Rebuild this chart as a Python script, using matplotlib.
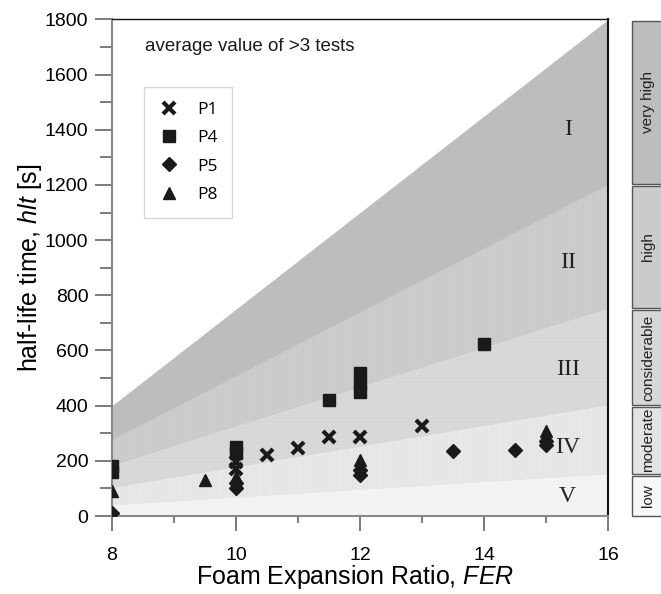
import matplotlib
matplotlib.use('Agg')
import matplotlib.pyplot as plt
from matplotlib.patches import Rectangle
from matplotlib.ticker import MultipleLocator

p1_fer = [10, 10, 10.5, 11, 11.5, 12, 13]
p1_hlt = [195, 170, 220, 245, 285, 285, 325]

p4_fer = [8, 8, 10, 10, 11.5, 12, 12, 12, 14]
p4_hlt = [180, 160, 250, 230, 420, 520, 480, 450, 625]

p5_fer = [8, 10, 10, 12, 12, 13.5, 14.5, 15, 15]
p5_hlt = [10, 120, 100, 165, 150, 235, 240, 272, 256]

p8_fer = [8, 9.5, 10, 12, 15, 15]
p8_hlt = [92, 130, 142, 202, 308, 290]

# Class boundaries, value at FER = 8 and FER = 16
band_fer = [8, 16]
bound_I = [400, 1800]
bound_II = [275, 1200]
bound_III = [180, 750]
bound_IV = [100, 400]
bound_V = [37, 150]
bound_zero = [0, 0]

band_names = ['I', 'II', 'III', 'IV', 'V']
band_label_hlt = [1400, 920, 530, 250, 70]

level_names = ['very high', 'high', 'considerable', 'moderate', 'low']
level_lo = [1200, 750, 400, 150, 0]
level_hi = [1800, 1200, 750, 400, 150]

band_colors = ['#bdbdbf', '#cacacb', '#d7d7d8', '#e5e5e5', '#f2f2f2']
hatch_colors = ['#bdbdbf', '#d2d2d3', '#e0e0e0', '#eeeeee', '#fafafa']
hatches = [None, '|||||', '.....', '|||||', '.....']
box_colors = ['#bdbdbf', '#cbcbcc', '#d7d7d8', '#e3e3e3', '#f7f7f7']


def main():
    plt.rcParams['font.family'] = ['Liberation Sans', 'DejaVu Sans']
    plt.rcParams['mathtext.fontset'] = 'custom'
    plt.rcParams['mathtext.rm'] = 'Liberation Sans'
    plt.rcParams['mathtext.it'] = 'Liberation Sans:italic'
    plt.rcParams['hatch.linewidth'] = 0.4

    fig = plt.figure(figsize=(6.61, 5.94), dpi=100)
    ax = fig.add_axes([0.1694, 0.1313, 0.7504, 0.8359])

    # Shaded classes
    bounds = [bound_I, bound_II, bound_III, bound_IV, bound_V, bound_zero]
    for i in range(5):
        ax.fill_between(band_fer, bounds[i + 1], bounds[i],
                        facecolor=band_colors[i], edgecolor=hatch_colors[i],
                        hatch=hatches[i], linewidth=0, zorder=1)
        ax.text(15.35, band_label_hlt[i], band_names[i], ha='center',
                va='center', fontsize=17, family='Liberation Serif',
                color='#222222', zorder=3)

    # Measurements
    ax.plot(p1_fer, p1_hlt, 'x', color='#1a1a1a', markersize=9,
            markeredgewidth=3, linestyle='none', label='P1', zorder=4)
    ax.plot(p4_fer, p4_hlt, 's', color='#1a1a1a', markersize=8.5,
            linestyle='none', label='P4', zorder=4)
    ax.plot(p5_fer, p5_hlt, 'D', color='#1a1a1a', markersize=7.5,
            linestyle='none', label='P5', zorder=4)
    ax.plot(p8_fer, p8_hlt, '^', color='#1a1a1a', markersize=9,
            linestyle='none', label='P8', zorder=4)

    ax.set_xlim(8, 16)
    ax.set_ylim(0, 1800)
    ax.xaxis.set_major_locator(MultipleLocator(2))
    ax.xaxis.set_minor_locator(MultipleLocator(1))
    ax.yaxis.set_major_locator(MultipleLocator(200))
    ax.yaxis.set_minor_locator(MultipleLocator(100))
    ax.tick_params(axis='both', which='both', direction='out',
                   color='#666666', width=1.2, labelsize=14)
    ax.tick_params(axis='y', which='major', length=12, pad=5)
    ax.tick_params(axis='y', which='minor', length=8.5)
    ax.tick_params(axis='x', which='major', length=11, pad=11)
    ax.tick_params(axis='x', which='minor', length=5)

    for side in ['left', 'bottom']:
        ax.spines[side].set_color('#888888')
        ax.spines[side].set_linewidth(1.5)
    ax.spines['top'].set_color('#111111')
    ax.spines['top'].set_linewidth(1.0)
    ax.spines['right'].set_color('#111111')
    ax.spines['right'].set_linewidth(1.5)

    ax.set_xlabel('Foam Expansion Ratio, $\\mathit{FER}$', fontsize=18,
                  va='center')
    ax.set_ylabel('half-life time, $\\mathit{hlt}$ [s]', fontsize=18,
                  va='center')
    ax.xaxis.set_label_coords(0.49, -0.123)
    ax.yaxis.set_label_coords(-0.165, 0.5)

    ax.text(0.0665, 0.945, 'average value of >3 tests', transform=ax.transAxes,
            fontsize=13.5, va='center', ha='left', color='#1a1a1a')

    leg = ax.legend(loc='upper left', bbox_to_anchor=(0.0645, 0.864),
                    borderaxespad=0, fancybox=False, frameon=True,
                    prop={'family': 'Open Sans', 'size': 12.5},
                    labelspacing=0.7, handlelength=1.2, handletextpad=1.0,
                    borderpad=0.85)
    leg.get_frame().set_edgecolor('#cccccc')
    leg.get_frame().set_linewidth(1.0)

    # Side scale with the class names
    side = fig.add_axes([0.956, 0.1313, 0.0484, 0.8359])
    side.set_xlim(0, 1)
    side.set_ylim(0, 1800)
    side.axis('off')
    for i in range(5):
        lo = level_lo[i] + (4 if level_lo[i] > 0 else 0)
        hi = level_hi[i] - 4
        side.add_patch(Rectangle((0, lo), 1, hi - lo, facecolor=box_colors[i],
                                 edgecolor='#555555', linewidth=1.0,
                                 clip_on=False))
        side.text(0.5, (level_lo[i] + level_hi[i]) / 2, level_names[i],
                  rotation=90, ha='center', va='center', fontsize=11,
                  color='#222222')

    plt.savefig('out.png', dpi=100)
    plt.close()


if __name__ == '__main__':
    main()
